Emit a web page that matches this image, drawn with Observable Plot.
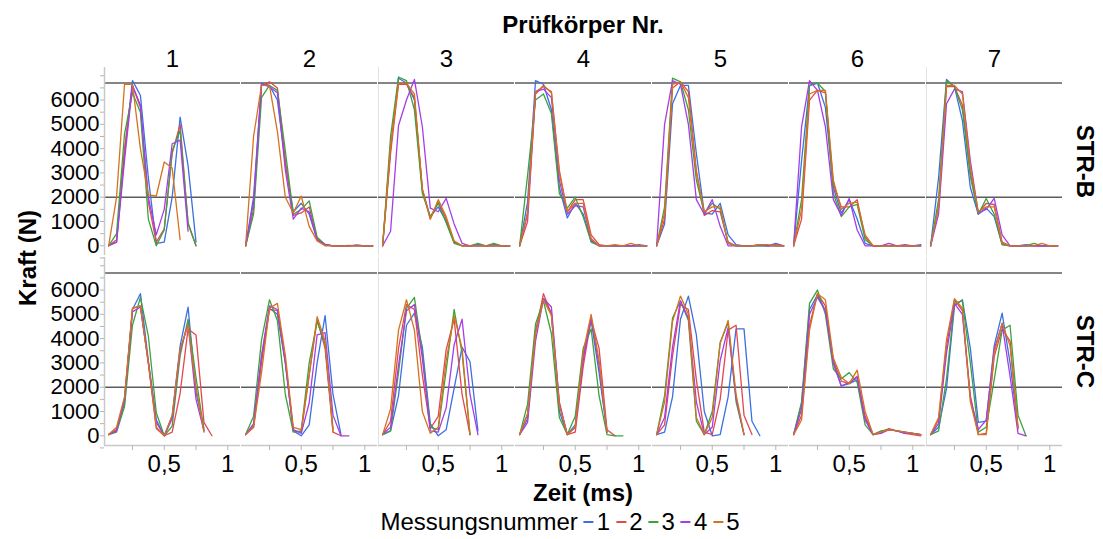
<!DOCTYPE html>
<html><head><meta charset="utf-8">
<script src="https://cdn.jsdelivr.net/npm/d3@7"></script>
<script src="https://cdn.jsdelivr.net/npm/@observablehq/plot@0.6"></script>
<style>
body{margin:0;background:#fff;font-family:"Liberation Sans",Arial,sans-serif;}
#wrap{position:relative;width:1103px;}
.t{position:absolute;white-space:nowrap;font-size:24px;line-height:1;color:#000;}
.b{font-weight:bold;}
#legend .it{display:inline-flex;align-items:center;}
#legend .dash{display:inline-block;width:10px;height:2px;margin:0 3px 0 6px;}
</style></head><body>
<div id="wrap">
 <div style="position:relative;height:42px"><span class="t b" style="left:583px;top:25px;transform:translate(-50%,-50%)">Prüfkörper Nr.</span></div>
 <div id="chart"></div>
 <div style="position:relative;height:26px"><span class="t b" style="left:583px;top:13px;transform:translate(-50%,-50%)">Zeit (ms)</span></div>
 <div style="position:relative;height:33px"><div id="legend" class="t" style="left:560px;top:16px;transform:translate(-50%,-50%);display:flex;align-items:center"></div></div>
 <span class="t b" style="left:28px;top:258px;transform:translate(-50%,-50%) rotate(-90deg)">Kraft (N)</span>
</div>
<script>
const zeit = [0.0625,0.125,0.1875,0.25,0.3125,0.375,0.4375,0.5,0.5625,0.625,0.6875,0.75,0.8125,0.875,0.9375,1.0,1.0625];
const typen = ["STR-B","STR-C"];
const nummern = [1,2,3,4,5,6,7];
const messungen = ["1","2","3","4","5"];
const farben = ["#3B6FE2","#E3474F","#3DA23D","#A53DE8","#D4731F"];
const xTicks = [0.25,0.5,0.75,1];
const xLabels = {0.5:"0,5", 1:"1"};
const yTicks = [-500,0,500,1000,1500,2000,2500,3000,3500,4000,4500,5000,5500,6000,6500,7000];
const yLabels = [0,1000,2000,3000,4000,5000,6000];
const refLinien = [2000, 6700];
const xDomain = [0.03, 1.1];
const yDomain = [-400, 7340];

// STR-B, Prüfkörper 1..7, Messungen 1..5 (Kraft in N)
const strB1 = [
 [0,150,3800,6800,6200,2800,100,150,2000,5300,3300,150],
 [0,250,4000,6600,5700,1800,150,700,3800,5000,900,0],
 [0,500,4600,6300,5500,1100,0,650,3900,4750,950,0],
 [0,150,3500,6600,5800,2000,450,1500,4200,4350,600],
 [0,2000,6650,6650,4000,2100,2050,3450,3200,250]];
const strB2 = [
 [0,2000,6700,6600,6000,3400,1400,1750,1300,250,50,0,0,0,30,0,0],
 [0,1500,6600,6750,6500,3500,1250,1350,1600,300,50,0,0,20,0,0,0],
 [0,1300,6100,6600,6400,3900,1300,1500,1850,350,50,0,0,0,0,0,0],
 [0,1800,6650,6550,6300,3100,1100,1550,1400,250,50,0,0,0,30,0,0],
 [0,4500,6600,6600,4700,2000,1350,2050,800,200,0,0,0,0,0,0,0]];
const strB3 = [
 [0,4000,6900,6700,6000,2300,1200,1600,1000,150,0,0,50,0,50,0,0],
 [0,3800,6650,6650,6100,2300,1100,1800,1100,150,0,0,0,0,0,0,0],
 [0,4500,6950,6800,5600,2150,1200,1750,950,100,0,0,100,0,100,0,0],
 [0,600,4950,6000,6850,4900,1550,1400,1950,900,100,0,0,0,0,0,0],
 [0,4100,6700,6700,6250,2350,1100,1900,1200,200,0,0,0,0,0,0,0]];
const strB4 = [
 [0,1800,6800,6650,5600,2400,1150,1750,1300,200,0,0,0,0,0,50,0],
 [0,1000,6250,6600,6300,3100,1400,1900,1900,450,50,0,0,0,0,0,0],
 [0,2900,6000,6250,5450,2150,1550,2000,1200,150,0,0,0,0,0,0,0],
 [0,1300,6350,6450,6100,2700,1300,1650,1600,250,0,0,0,0,0,0,0],
 [0,1400,6350,6550,6350,3000,1400,1750,1750,300,0,0,50,0,100,0,0]];
const strB5 = [
 [0,900,5850,6600,6600,3800,1350,1300,1750,450,50,0,0,0,0,100,0],
 [0,1100,6500,6750,6350,3100,1250,1450,1400,150,0,0,0,50,0,50,0],
 [0,1600,6900,6750,5600,2700,1350,1750,1500,100,0,0,0,0,0,0,0],
 [0,5000,6800,6650,5000,1900,1300,1900,800,0,0,0,0,50,0,0,0],
 [0,1350,6650,6750,6100,3000,1400,1600,1600,100,0,0,0,50,50,0,0]];
const strB6 = [
 [0,3500,6600,6700,5700,2400,1350,1900,1100,100,0,0,0,0,0,0,50],
 [0,1100,6000,6400,6300,2550,1600,1600,1900,350,0,0,0,0,0,0,0],
 [0,1900,6600,6700,6350,2150,1200,1600,1700,250,0,0,0,0,0,0,0],
 [0,4900,6800,6400,4900,1900,1250,1950,650,0,0,0,100,0,50,0,0],
 [0,1500,6250,6400,6400,2700,1500,1750,1800,450,0,0,0,0,0,0,0]];
const strB7 = [
 [0,2800,6850,6550,5150,2400,1300,1550,1200,50,0,0,50,0,0,0,0],
 [0,1600,6550,6550,5800,3000,1350,1750,1700,150,0,0,0,0,0,0,0],
 [0,1900,6800,6550,5600,2850,1300,1950,1300,50,0,0,0,100,0,0,0],
 [0,1300,5850,6450,6350,3500,1350,1500,1950,450,0,0,0,0,0,0,0],
 [0,1600,6600,6600,6250,3250,1400,1600,1600,100,0,0,0,0,100,0,0]];

// STR-C
const strC1 = [
 [50,250,1350,5200,5850,3100,650,0,800,3700,5300,1800,300],
 [50,250,1500,5250,5350,3000,300,0,150,1750,4400,4150,550,0],
 [50,150,1200,4550,5700,4100,950,0,400,3300,4800,2400,200],
 [50,200,1500,5100,5300,3000,550,0,700,3500,4600,1500,200],
 [50,350,1600,5250,5350,3000,350,0,850,3600,4550,2000,150]];
const strC2 = [
 [50,400,3200,5250,5000,3000,200,0,450,3000,4950,1700,50],
 [50,350,3000,5200,5150,3100,200,150,2500,4800,3600,150,0],
 [50,800,3950,5600,4750,1700,150,200,3000,4700,3800,300],
 [50,500,3300,5350,5200,3000,250,100,1350,4150,4250,850,0,0],
 [50,350,2600,5250,5450,3300,350,250,2500,4900,3900,150]];
const strC3 = [
 [50,200,1650,4550,5050,3650,500,0,250,1950,3650,3050,200],
 [50,600,3600,5400,5200,2500,300,800,3550,4800,1700,50],
 [50,200,2600,5250,5700,3400,350,250,2700,5200,3400,50],
 [50,350,2900,5150,5400,3200,200,150,1150,3750,4800,1700,50],
 [50,1100,4350,5600,4350,1000,100,350,3100,4950,3600,50]];
const strC4 = [
 [50,700,4300,5650,5050,1000,50,450,3300,4750,2600,150],
 [50,900,4250,5850,5000,1400,50,150,2850,4800,3600,250,0],
 [50,1300,4600,5550,4200,750,50,800,3600,4400,1650,50,0,0],
 [50,550,3900,5650,5300,1300,50,350,3100,4900,2900,150],
 [50,900,4200,5600,4950,1250,50,350,3450,5000,3100,150]];
const strC5 = [
 [50,150,1600,4800,5750,4150,1000,0,50,1600,4400,4400,600,0],
 [50,450,3300,5400,5200,2300,150,50,1500,4350,4550,850,50],
 [50,1650,4850,5550,4750,600,50,1000,3850,4650,1400,50],
 [50,750,3650,5550,4850,1400,50,350,3100,4450,1550,50],
 [50,1400,4700,5750,5000,750,50,750,3800,4750,1700,50]];
const strC6 = [
 [50,1300,5200,5800,5150,3000,2050,2150,2300,700,50,150,250,200,150,100,50],
 [50,850,4550,5850,5350,3100,2250,2150,2450,800,50,150,300,200,100,50,0],
 [50,1400,5450,6000,5000,2750,2350,2600,2200,450,50,200,250,200,150,100,50],
 [50,1100,5000,5700,5150,3000,2050,2200,2400,650,50,100,250,200,100,100,50],
 [50,650,4350,5850,5600,3200,2400,2150,2700,1000,50,150,250,200,150,100,50]];
const strC7 = [
 [50,350,1950,5350,5600,3600,550,600,3700,5050,3000,300],
 [50,650,3700,5600,5150,1650,50,100,3250,4400,3900,350],
 [50,200,2350,5450,5550,3000,150,350,2300,4350,4550,850,0],
 [50,500,3400,5450,5000,1550,250,650,3550,4600,2450,100,0],
 [50,750,3950,5650,5250,1400,50,50,3400,4650,3700,300]];

const strB = [strB1,strB2,strB3,strB4,strB5,strB6,strB7];
const strC = [strC1,strC2,strC3,strC4,strC5,strC6,strC7];

const rows = [];
[[typen[0], strB],[typen[1], strC]].forEach(([typ, sets]) => {
  sets.forEach((serien, pi) => {
    serien.forEach((werte, mi) => {
      werte.forEach((v, j) => rows.push({typ, nr: nummern[pi], mess: messungen[mi], zeit: zeit[j], kraft: v}));
    });
  });
});

const font = '"Liberation Sans", Arial, sans-serif';
const chart = Plot.plot({
  width: 1103, height: 438,
  marginLeft: 104, marginRight: 40, marginTop: 25, marginBottom: 34,
  style: {fontFamily: font, fontSize: "24px", color: "black", background: "white", overflow: "visible"},
  fx: {domain: nummern, paddingInner: 0.007, paddingOuter: 0},
  fy: {domain: typen, paddingInner: 0.01, paddingOuter: 0},
  x: {domain: xDomain},
  y: {domain: yDomain},
  color: {domain: messungen, range: farben},
  marks: [
    Plot.ruleX([{nr: 3}, {nr: 7}], {fx: "nr", x: () => xDomain[0], stroke: "#e2e2e2"}),
    Plot.ruleY(refLinien, {stroke: "#5c5c5c", strokeWidth: 1.4}),
    Plot.ruleX(typen.map(t => ({typ: t, nr: nummern[0]})), {fx: "nr", fy: "typ", x: () => xDomain[0], stroke: "#c8c8c8", strokeWidth: 1.5}),
    Plot.ruleY(nummern.map(n => ({typ: typen[1], nr: n})), {fx: "nr", fy: "typ", y: () => yDomain[0], stroke: "#c8c8c8", strokeWidth: 1.5}),
    Plot.lineY(rows, {x: "zeit", y: "kraft", z: "mess", stroke: "mess", fx: "nr", fy: "typ", strokeWidth: 1.3}),
    Plot.axisX({ticks: xTicks, tickFormat: d => xLabels[d] ?? "", tickSize: 5, tickPadding: 4, stroke: "#b5b5b5", fill: "black", fontSize: 24, label: null}),
    Plot.axisY({ticks: yTicks, tickFormat: d => yLabels.includes(d) ? String(d) : "", tickSize: 4, tickPadding: 1, stroke: "#b5b5b5", fill: "black", fontSize: 22, label: null}),
    Plot.axisFx({anchor: "top", tickSize: 0, tickPadding: 1, fontSize: 24, label: null}),
    Plot.axisFy({anchor: "right", tickSize: 0, tickPadding: 32, tickRotate: 90, fontSize: 24, fontWeight: "bold", label: null})
  ]
});
document.getElementById("chart").appendChild(chart);

const leg = document.getElementById("legend");
const lt = document.createElement("span"); lt.textContent = "Messungsnummer"; leg.appendChild(lt);
messungen.forEach((m, i) => {
  const it = document.createElement("span"); it.className = "it";
  const d = document.createElement("span"); d.className = "dash"; d.style.background = farben[i];
  const n = document.createElement("span"); n.textContent = m;
  it.appendChild(d); it.appendChild(n); leg.appendChild(it);
});
</script>
</body></html>
